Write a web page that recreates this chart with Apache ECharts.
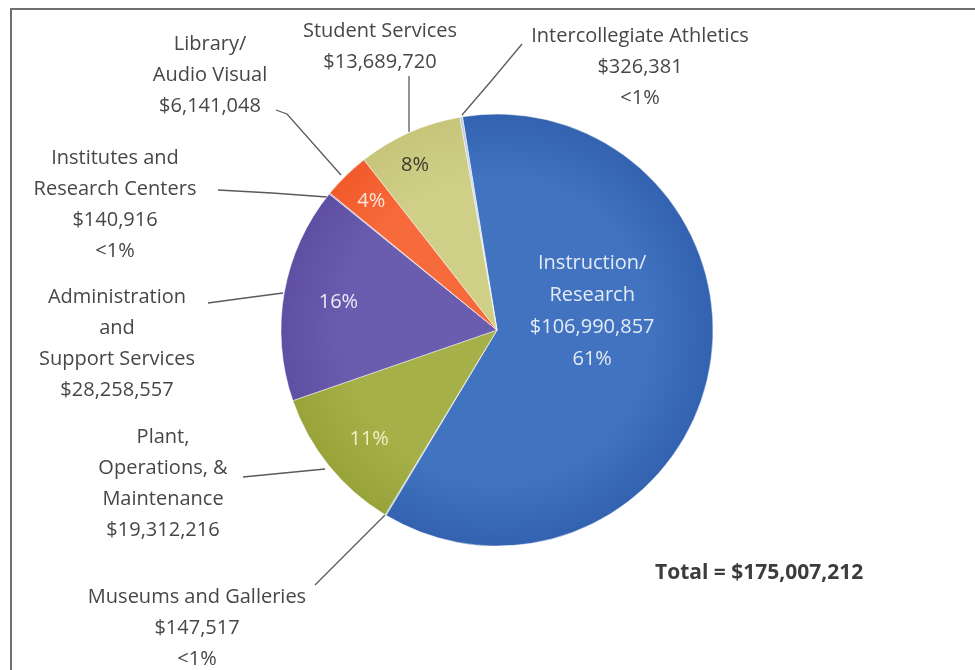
<!DOCTYPE html>
<html>
<head>
<meta charset="utf-8">
<script src="https://cdn.jsdelivr.net/npm/echarts@6/dist/echarts.min.js"></script>
<style>
html,body{margin:0;padding:0;background:#fff;}
#chart{width:975px;height:670px;}
</style>
</head>
<body>
<div id="chart"></div>
<script>
// ---- data ----
var categories = [
  'Instruction/\nResearch',
  'Museums and Galleries',
  'Plant,\nOperations, &\nMaintenance',
  'Administration\nand\nSupport Services',
  'Institutes and\nResearch Centers',
  'Library/\nAudio Visual',
  'Student Services',
  'Intercollegiate Athletics'
];
var values = [106990857, 147517, 19312216, 28258557, 140916, 6141048, 13689720, 326381];
var totalLabel = 'Total = $175,007,212';

// ---- styling / layout (not data) ----
var CX = 497, CY = 330, R = 216;
var baseColors = ['#3363b0', '#8fa6cf', '#98a33a', '#5e4fa3', '#9b8fc8', '#f25a2a', '#c6c57a', '#b9c9e4'];
var lightColors = ['#4173c0', '#a3b7dc', '#a6b048', '#6a5caf', '#aa9fd2', '#f76a3b', '#d0cf88', '#c8d6ec'];
var insideTextColors = ['#e4ebf5', '#fff', '#f1f0c4', '#ecebf6', '#fff', '#f8e6dc', '#3a3a2a', '#fff'];
var insideRadius = [97, 0, 168, 161, 0, 180, 184, 0];
var insideAngleShift = [-22, 0, -1.5, 0, 0, 0, -2.5, 0]; // degrees, screen rotation
var outerLabelPos = [null, [197, 628], [163, 484], [117, 344], [115, 205], [210, 75], [380, 47], [640, 67]];
var outerLinePts = [
  null,
  [[315, 585], [350, 550], [385, 515]],
  [[243, 477], [284, 473], [325, 469]],
  [[208, 303], [245, 298], [283, 293]],
  [[218, 190], [272, 193], [327, 197]],
  [[276, 110], [287, 114], [341, 175]],
  [[409, 76], [409, 104], [409, 132]],
  [[522, 44], [492, 80], [462, 115]]
];
var FONT = '"Open Sans", Lato, sans-serif';

function fmtMoney(v) {
  return '$' + v.toString().replace(/\B(?=(\d{3})+(?!\d))/g, ',');
}
function grad(i) {
  return {
    type: 'radial', x: CX, y: CY, r: R, global: true,
    colorStops: [{offset: 0, color: lightColors[i]}, {offset: 0.7, color: lightColors[i]}, {offset: 1, color: baseColors[i]}]
  };
}

var dataA = categories.map(function (c, i) {
  return {name: c, value: values[i], itemStyle: {color: grad(i)},
    label: {color: insideTextColors[i]}};
});
var dataB = categories.map(function (c, i) {
  return {name: c, value: values[i],
    label: {show: i !== 0}, labelLine: {show: i !== 0}};
});

var chart = echarts.init(document.getElementById('chart'), null, {renderer: 'canvas'});
chart.setOption({
  backgroundColor: '#ffffff',
  animation: false,
  title: {
    text: totalLabel, left: 650, top: 558,
    textStyle: {fontFamily: FONT, fontSize: 21, fontWeight: 'bold', color: '#3c3c3c'}
  },
  graphic: [{
    type: 'rect', silent: true, z: -1,
    shape: {x: 11, y: 9, width: 1000, height: 720},
    style: {fill: 'none', stroke: '#6f6f6f', lineWidth: 2}
  }],
  series: [
    {
      type: 'pie', silent: true, center: [CX, CY], radius: [0, R],
      startAngle: 99.2, clockwise: true, avoidLabelOverlap: false,
      minShowLabelAngle: 0,
      itemStyle: {borderColor: 'rgba(255,255,255,0.45)', borderWidth: 1},
      label: {
        show: true, position: 'inside', fontFamily: FONT, fontSize: 20,
        lineHeight: 32, align: 'center',
        formatter: function (p) {
          if (p.dataIndex === 0) {
            return p.name + '\n' + fmtMoney(p.value) + '\n' + Math.round(p.percent) + '%';
          }
          if (p.percent < 1) return '';
          return Math.round(p.percent) + '%';
        }
      },
      labelLine: {show: false},
      labelLayout: function (p) {
        var i = p.dataIndex;
        var r = insideRadius[i];
        if (!r) return {};
        var lx = p.labelRect.x + p.labelRect.width / 2;
        var ly = p.labelRect.y + p.labelRect.height / 2;
        var a = Math.atan2(ly - CY, lx - CX) + insideAngleShift[i] * Math.PI / 180;
        return {x: CX + Math.cos(a) * r, y: CY + Math.sin(a) * r, align: 'center', verticalAlign: 'middle'};
      },
      data: dataA
    },
    {
      type: 'pie', silent: true, center: [CX, CY], radius: [0, R],
      startAngle: 99.2, clockwise: true, avoidLabelOverlap: false,
      minShowLabelAngle: 0,
      itemStyle: {color: 'rgba(0,0,0,0)'},
      label: {
        show: true, position: 'outside', fontFamily: FONT, fontSize: 20,
        lineHeight: 31, color: '#474747', align: 'center',
        formatter: function (p) {
          var s = p.name + '\n' + fmtMoney(p.value);
          if (p.percent < 1) s += '\n<1%';
          return s;
        }
      },
      labelLine: {show: true, lineStyle: {color: '#5a5a5a', width: 1.3}},
      labelLayout: function (p) {
        var i = p.dataIndex;
        if (!outerLabelPos[i]) return {};
        return {
          x: outerLabelPos[i][0], y: outerLabelPos[i][1],
          align: 'center', verticalAlign: 'middle',
          labelLinePoints: outerLinePts[i]
        };
      },
      data: dataB
    }
  ]
});
</script>
</body>
</html>
